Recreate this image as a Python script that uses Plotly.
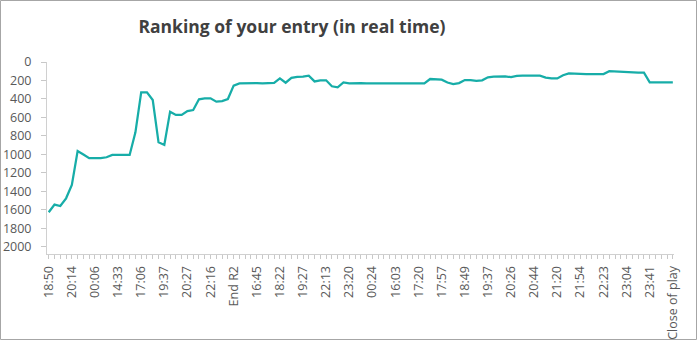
import plotly.graph_objects as go

# Entry ranking sampled through the competition (lower number = better)
ranks = [
    1625, 1542, 1557, 1474, 1330, 962, 1000, 1040, 1040, 1040,
    1030, 1005, 1005, 1005, 1005, 760, 328, 328, 411, 868,
    897, 537, 573, 573, 530, 519, 403, 393, 393, 429,
    422, 400, 255, 231, 228, 227, 229, 231, 229, 225,
    177, 224, 172, 160, 159, 148, 210, 198, 198, 262,
    274, 220, 230, 227, 228, 230, 231, 231, 231, 231,
    233, 238, 238, 232, 231, 231, 184, 188, 191, 222,
    240, 228, 195, 195, 205, 198, 165, 157, 155, 155,
    164, 150, 148, 148, 148, 148, 168, 178, 178, 143,
    124, 122, 128, 130, 130, 130, 130, 100, 104, 112,
    116, 116, 116, 116, 220, 220, 220, 220, 220,
]

# Labels shown on every fourth sample
tick_labels = [
    "18:50", "20:14", "00:06", "14:33", "17:06", "19:37", "20:27", "22:16",
    "End R2", "16:45", "18:22", "19:27", "22:13", "23:20", "00:24", "16:03",
    "17:20", "17:57", "18:49", "19:37", "20:26", "20:44", "21:20", "21:54",
    "22:23", "23:04", "23:41", "Close of play",
]
label_step = 4

y_ticks = list(range(0, 2001, 200))

x = list(range(len(ranks)))
tick_positions = x[::label_step]

fig = go.Figure()
fig.add_trace(go.Scatter(
    x=x,
    y=ranks,
    mode="lines",
    line=dict(color="#17ADA8", width=2.25),
    hoverinfo="y",
))

W, H = 698, 341
ml, mr, mt, mb = 47, 24, 62, 87

fig.update_layout(
    width=W,
    height=H,
    margin=dict(l=ml, r=mr, t=mt, b=mb, pad=0, autoexpand=False),
    paper_bgcolor="white",
    plot_bgcolor="white",
    showlegend=False,
    font=dict(family="Open Sans, Noto Sans, sans-serif", color="#595959"),
    title=dict(
        text="<b>Ranking of your entry (in real time)</b>",
        x=292 / W,
        xanchor="center",
        xref="container",
        y=1 - 27 / H,
        yanchor="middle",
        yref="container",
        font=dict(size=17.5, color="#404040", family="Open Sans, sans-serif"),
    ),
    xaxis=dict(
        range=[-0.3, 108.2],
        automargin=False,
        tickmode="array",
        tickvals=tick_positions,
        ticktext=tick_labels,
        tickangle=-90,
        tickfont=dict(size=12.5, color="#595959"),
        showgrid=False,
        zeroline=False,
        showline=True,
        linecolor="#D0D0D0",
        linewidth=1,
        ticks="outside",
        ticklen=4,
        tickcolor="#C8C8C8",
        ticklabelstandoff=2,
        minor=dict(dtick=1, tick0=0, ticks="outside", ticklen=4,
                   tickcolor="#C8C8C8", showgrid=False),
        fixedrange=True,
    ),
    yaxis=dict(
        range=[2076, 0],
        automargin=False,
        tickmode="array",
        tickvals=y_ticks,
        ticktext=[str(v) for v in y_ticks],
        tickfont=dict(size=12.5, color="#595959"),
        showgrid=False,
        zeroline=False,
        showline=True,
        linecolor="#D0D0D0",
        linewidth=1,
        ticks="outside",
        ticklen=5,
        tickcolor="#C8C8C8",
        ticklabelstandoff=7,
        fixedrange=True,
    ),
)

# Thin frame around the whole chart
fig.add_shape(
    type="rect",
    xref="paper", yref="paper",
    x0=-(ml - 0.5) / (W - ml - mr),
    x1=1 + (mr - 1.5) / (W - ml - mr),
    y0=-(mb - 1.5) / (H - mt - mb),
    y1=1 + (mt - 0.5) / (H - mt - mb),
    line=dict(color="#A6A6A6", width=1),
    fillcolor="rgba(0,0,0,0)",
    layer="below",
)

fig.write_html("out.html", config={"displayModeBar": False})
